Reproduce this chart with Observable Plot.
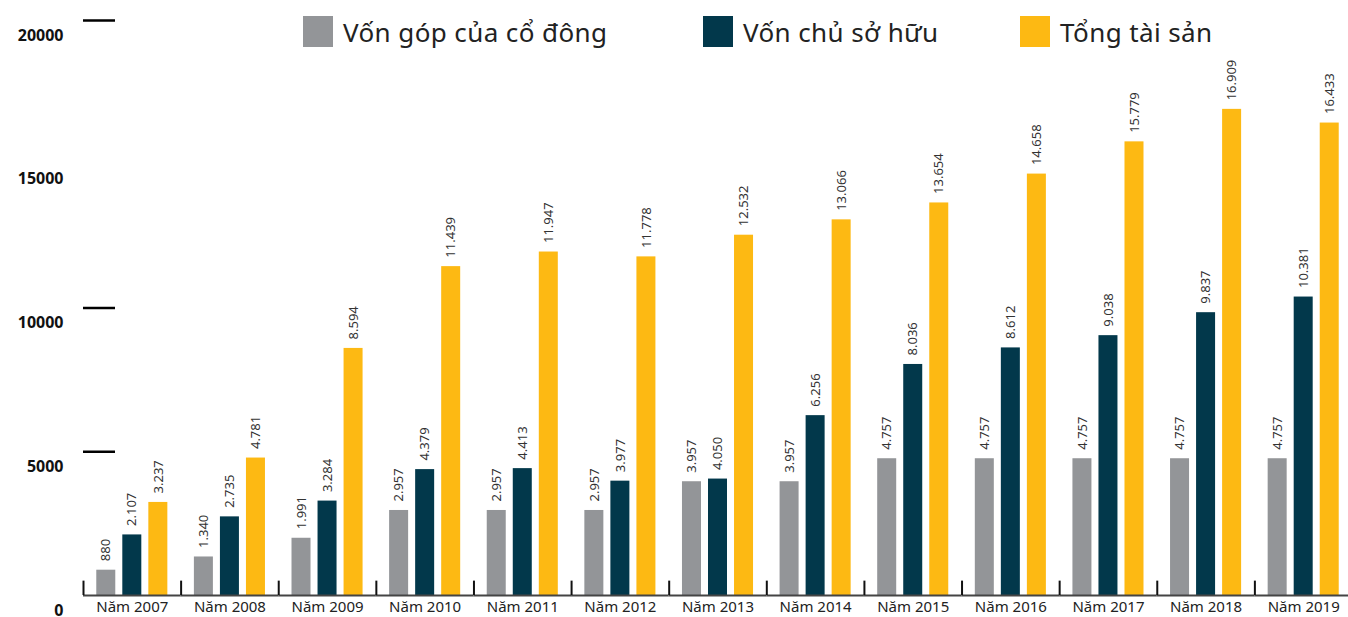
<!DOCTYPE html>
<html><head><meta charset="utf-8">
<script src="https://cdn.jsdelivr.net/npm/d3@7"></script>
<script src="https://cdn.jsdelivr.net/npm/@observablehq/plot@0.6"></script>
<style>
body{margin:0;background:#fff;overflow:hidden;font-family:"Noto Sans",sans-serif}
#wrap{position:relative;width:1348px;height:617px;overflow:hidden}
#wrap svg{position:absolute;left:0;top:0;max-width:none}
.leg{position:absolute;top:16px;height:31px;display:flex;align-items:center;font-size:26px;letter-spacing:0.4px;color:#222;white-space:nowrap;z-index:2}
.sw{width:30px;height:31px;margin-right:10px;flex:none}
</style></head><body><div id="wrap"></div>
<script>
const years = [2007,2008,2009,2010,2011,2012,2013,2014,2015,2016,2017,2018,2019];
const seriesNames = ["Vốn góp của cổ đông","Vốn chủ sở hữu","Tổng tài sản"];
const vonGop      = [880,1340,1991,2957,2957,2957,3957,3957,4757,4757,4757,4757,4757];
const vonChuSoHuu = [2107,2735,3284,4379,4413,3977,4050,6256,8036,8612,9038,9837,10381];
const tongTaiSan  = [3237,4781,8594,11439,11947,11778,12532,13066,13654,14658,15779,16909,16433];
const yTickValues = [0,5000,10000,15000,20000];
const yTickLines  = [5000,10000,20000];
const colors = ["#939598","#02384b","#fdb913"];
const legendLeft = [303,703,1020];

const seriesArrays = [vonGop, vonChuSoHuu, tongTaiSan];
const rows = years.flatMap((yr,i)=>seriesArrays.map((arr,k)=>({year:yr, series:seriesNames[k], value:arr[i]})));
const fmt = d3.formatLocale({decimal:",",thousands:".",grouping:[3],currency:["",""]}).format(",");

const W=1352, ML=83, MT=20, MB=22, H=617;
const bandW=(W-ML)/years.length;
const step = bandW/(3-0.27+2*0.51);
const grayCenter = step*0.51 + step*(1-0.27)/2;

const plot = Plot.plot({
  width:W, height:H, marginLeft:ML, marginRight:0, marginTop:MT, marginBottom:MB,
  style:{fontFamily:'"Noto Sans",sans-serif', background:"transparent", color:"#222", overflow:"visible", maxWidth:"none"},
  fx:{domain:years, padding:0, round:false, label:null, axis:null},
  x:{domain:seriesNames, paddingInner:0.27, paddingOuter:0.51, round:false, axis:null},
  y:{domain:[0,20000], axis:null},
  color:{domain:seriesNames, range:colors},
  marks:[
    Plot.barY(rows,{fx:"year", x:"series", y:"value", fill:"series"}),
    Plot.text(rows,{fx:"year", x:"series", y:"value", text:d=>fmt(d.value), rotate:-90, textAnchor:"start", dy:-9, fontSize:13, fill:"#333"}),
    Plot.ruleY([0],{stroke:"#444", strokeWidth:2}),
    Plot.ruleX(years,{fx:d=>d, x:()=>seriesNames[0], y1:0, y2:500, dx:-grayCenter, stroke:"#111", strokeWidth:2}),
    Plot.ruleY(yTickLines,{fx:()=>years[0], y:d=>d, insetRight:bandW-32, stroke:"#000", strokeWidth:2.5}),
    Plot.axisFx({anchor:"bottom", tickSize:0, tickPadding:6, fontSize:15, tickFormat:d=>`Năm ${d}`, label:null, fill:"#222"}),
    Plot.axisY({ticks:yTickValues, tickSize:0, tickPadding:20, dy:15, fontSize:16, fontWeight:"bold", tickFormat:d=>String(d), label:null, fill:"#111"})
  ]
});
const wrap = document.getElementById("wrap");
wrap.appendChild(plot);
seriesNames.forEach((name,k)=>{
  const item = document.createElement("div");
  item.className = "leg";
  item.style.left = legendLeft[k] + "px";
  const sw = document.createElement("div");
  sw.className = "sw";
  sw.style.background = colors[k];
  const t = document.createElement("span");
  t.textContent = name;
  item.appendChild(sw); item.appendChild(t);
  wrap.appendChild(item);
});
</script></body></html>
